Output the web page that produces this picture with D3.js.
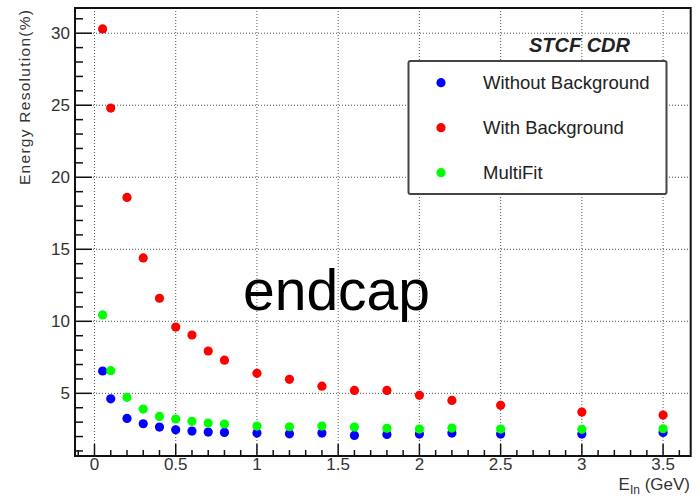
<html>
<head>
    <title>Energy resolution - endcap</title>
    <script type="text/javascript" src="https://d3js.org/d3.v7.min.js"></script>
    <style>
        body {
            margin: 0;
            background: white;
            font-family: "Liberation Sans", Arial, sans-serif;
        }

        .grid line {
            stroke: #555;
            stroke-width: 1px;
            stroke-dasharray: 1, 2;
        }

        .ticklabel {
            font-size: 17px;
            fill: #333;
        }

        .legend-text {
            font-size: 18.5px;
            fill: #222;
        }
    </style>
</head>
<body>
<div id="chart"></div>

<script>
    // beam energy (GeV)
    var energies = [0.05, 0.1, 0.2, 0.3, 0.4, 0.5, 0.6, 0.7, 0.8, 1.0, 1.2, 1.4, 1.6, 1.8, 2.0, 2.2, 2.5, 3.0, 3.5];
    // resolution (%)
    var withoutBg = [6.55, 4.62, 3.26, 2.89, 2.66, 2.47, 2.38, 2.31, 2.29, 2.24, 2.19, 2.24, 2.08, 2.15, 2.17, 2.24, 2.17, 2.17, 2.29];
    var withBg = [30.3, 24.8, 18.6, 14.4, 11.6, 9.6, 9.05, 7.94, 7.3, 6.39, 5.97, 5.5, 5.2, 5.2, 4.86, 4.51, 4.17, 3.7, 3.49];
    var multiFit = [10.44, 6.57, 4.72, 3.91, 3.4, 3.22, 3.06, 2.94, 2.87, 2.73, 2.68, 2.73, 2.66, 2.57, 2.52, 2.59, 2.52, 2.5, 2.54];

    var seriesNames = ["Without Background", "With Background", "MultiFit"];
    var seriesColors = ["#0000ff", "#ff0000", "#00ff00"];
    var seriesValues = [withoutBg, withBg, multiFit];

    var xMajor = [0, 0.5, 1, 1.5, 2, 2.5, 3, 3.5];
    var xTickLabels = ["0", "0.5", "1", "1.5", "2", "2.5", "3", "3.5"];
    var yMajor = [5, 10, 15, 20, 25, 30];

    var width = 700, height = 497;
    var frame = {left: 75, right: 690.7, top: 8, bottom: 456};

    var x = d3.scaleLinear().domain([-0.12, 3.67]).range([frame.left, frame.right]);
    var y = d3.scaleLinear().domain([0.65, 31.75]).range([frame.bottom, frame.top]);

    var svg = d3.select("#chart")
        .append("svg")
        .attr("width", width)
        .attr("height", height);

    // grid
    var grid = svg.append("g").attr("class", "grid");
    grid.selectAll("line.gx")
        .data(xMajor)
        .join("line")
        .attr("x1", function (d) { return x(d); })
        .attr("x2", function (d) { return x(d); })
        .attr("y1", frame.top)
        .attr("y2", frame.bottom);
    grid.selectAll("line.gy")
        .data(yMajor)
        .join("line")
        .attr("class", "gy")
        .attr("x1", frame.left)
        .attr("x2", frame.right)
        .attr("y1", function (d) { return y(d); })
        .attr("y2", function (d) { return y(d); });

    // minor ticks
    var xMinor = d3.range(-1, 37).map(function (i) { return i / 10; })
        .filter(function (v) { return Math.abs(v * 2 - Math.round(v * 2)) > 1e-6; });
    var yMinor = d3.range(1, 32).filter(function (v) { return v % 5 !== 0; });

    var ticks = svg.append("g").attr("stroke", "#111").attr("stroke-width", 1.5);
    ticks.selectAll("line.xmin")
        .data(xMinor)
        .join("line")
        .attr("x1", function (d) { return x(d); })
        .attr("x2", function (d) { return x(d); })
        .attr("y1", frame.bottom)
        .attr("y2", frame.bottom - 6);
    ticks.selectAll("line.xmaj")
        .data(xMajor)
        .join("line")
        .attr("class", "xmaj")
        .attr("x1", function (d) { return x(d); })
        .attr("x2", function (d) { return x(d); })
        .attr("y1", frame.bottom)
        .attr("y2", frame.bottom - 12);
    ticks.selectAll("line.ymin")
        .data(yMinor)
        .join("line")
        .attr("class", "ymin")
        .attr("x1", frame.left)
        .attr("x2", frame.left + 8)
        .attr("y1", function (d) { return y(d); })
        .attr("y2", function (d) { return y(d); });
    ticks.selectAll("line.ymaj")
        .data(yMajor)
        .join("line")
        .attr("class", "ymaj")
        .attr("x1", frame.left)
        .attr("x2", frame.left + 17)
        .attr("y1", function (d) { return y(d); })
        .attr("y2", function (d) { return y(d); });

    // frame
    svg.append("rect")
        .attr("x", frame.left)
        .attr("y", frame.top)
        .attr("width", frame.right - frame.left)
        .attr("height", frame.bottom - frame.top)
        .attr("fill", "none")
        .attr("stroke", "#111")
        .attr("stroke-width", 2);

    // tick labels
    svg.append("g").selectAll("text")
        .data(xMajor)
        .join("text")
        .attr("class", "ticklabel")
        .attr("x", function (d) { return x(d); })
        .attr("y", 470)
        .attr("text-anchor", "middle")
        .text(function (d, i) { return xTickLabels[i]; });
    svg.append("g").selectAll("text")
        .data(yMajor)
        .join("text")
        .attr("class", "ticklabel")
        .attr("x", 70)
        .attr("y", function (d) { return y(d); })
        .attr("dy", "0.36em")
        .attr("text-anchor", "end")
        .text(function (d) { return d; });

    // axis titles
    svg.append("text")
        .attr("transform", "translate(30,10) rotate(-90)")
        .attr("text-anchor", "end")
        .attr("textLength", 175)
        .attr("lengthAdjust", "spacing")
        .style("font-size", "15.5px")
        .style("fill", "#333")
        .text("Energy Resolution(%)");

    var xt = svg.append("text")
        .attr("x", 690)
        .attr("y", 490)
        .attr("text-anchor", "end")
        .style("font-size", "17px")
        .style("fill", "#333");
    xt.append("tspan").text("E");
    xt.append("tspan").attr("dy", 3.5).style("font-size", "12px").text("In");
    xt.append("tspan").attr("dy", -3.5).text(" (GeV)");

    // points
    seriesValues.forEach(function (vals, s) {
        svg.append("g").selectAll("circle")
            .data(vals)
            .join("circle")
            .attr("cx", function (d, i) { return x(energies[i]); })
            .attr("cy", function (d) { return y(d); })
            .attr("r", 4.6)
            .attr("fill", seriesColors[s]);
    });

    // legend
    var legend = svg.append("g");
    legend.append("rect")
        .attr("x", 408.5)
        .attr("y", 61)
        .attr("width", 258)
        .attr("height", 133)
        .attr("rx", 2)
        .attr("fill", "white")
        .attr("stroke", "#444")
        .attr("stroke-width", 2);
    seriesNames.forEach(function (name, i) {
        legend.append("circle")
            .attr("cx", 441)
            .attr("cy", 82.7 + i * 45)
            .attr("r", 4.6)
            .attr("fill", seriesColors[i]);
        legend.append("text")
            .attr("class", "legend-text")
            .attr("x", 483)
            .attr("y", 88.7 + i * 45)
            .text(name);
    });

    // labels
    svg.append("text")
        .attr("x", 630)
        .attr("y", 51.5)
        .attr("text-anchor", "end")
        .style("font-size", "20px")
        .style("font-weight", "bold")
        .style("font-style", "italic")
        .style("fill", "#222")
        .text("STCF CDR");

    svg.append("text")
        .attr("x", 243)
        .attr("y", 310)
        .style("font-size", "57px")
        .style("fill", "#000")
        .text("endcap");
</script>
</body>
</html>
